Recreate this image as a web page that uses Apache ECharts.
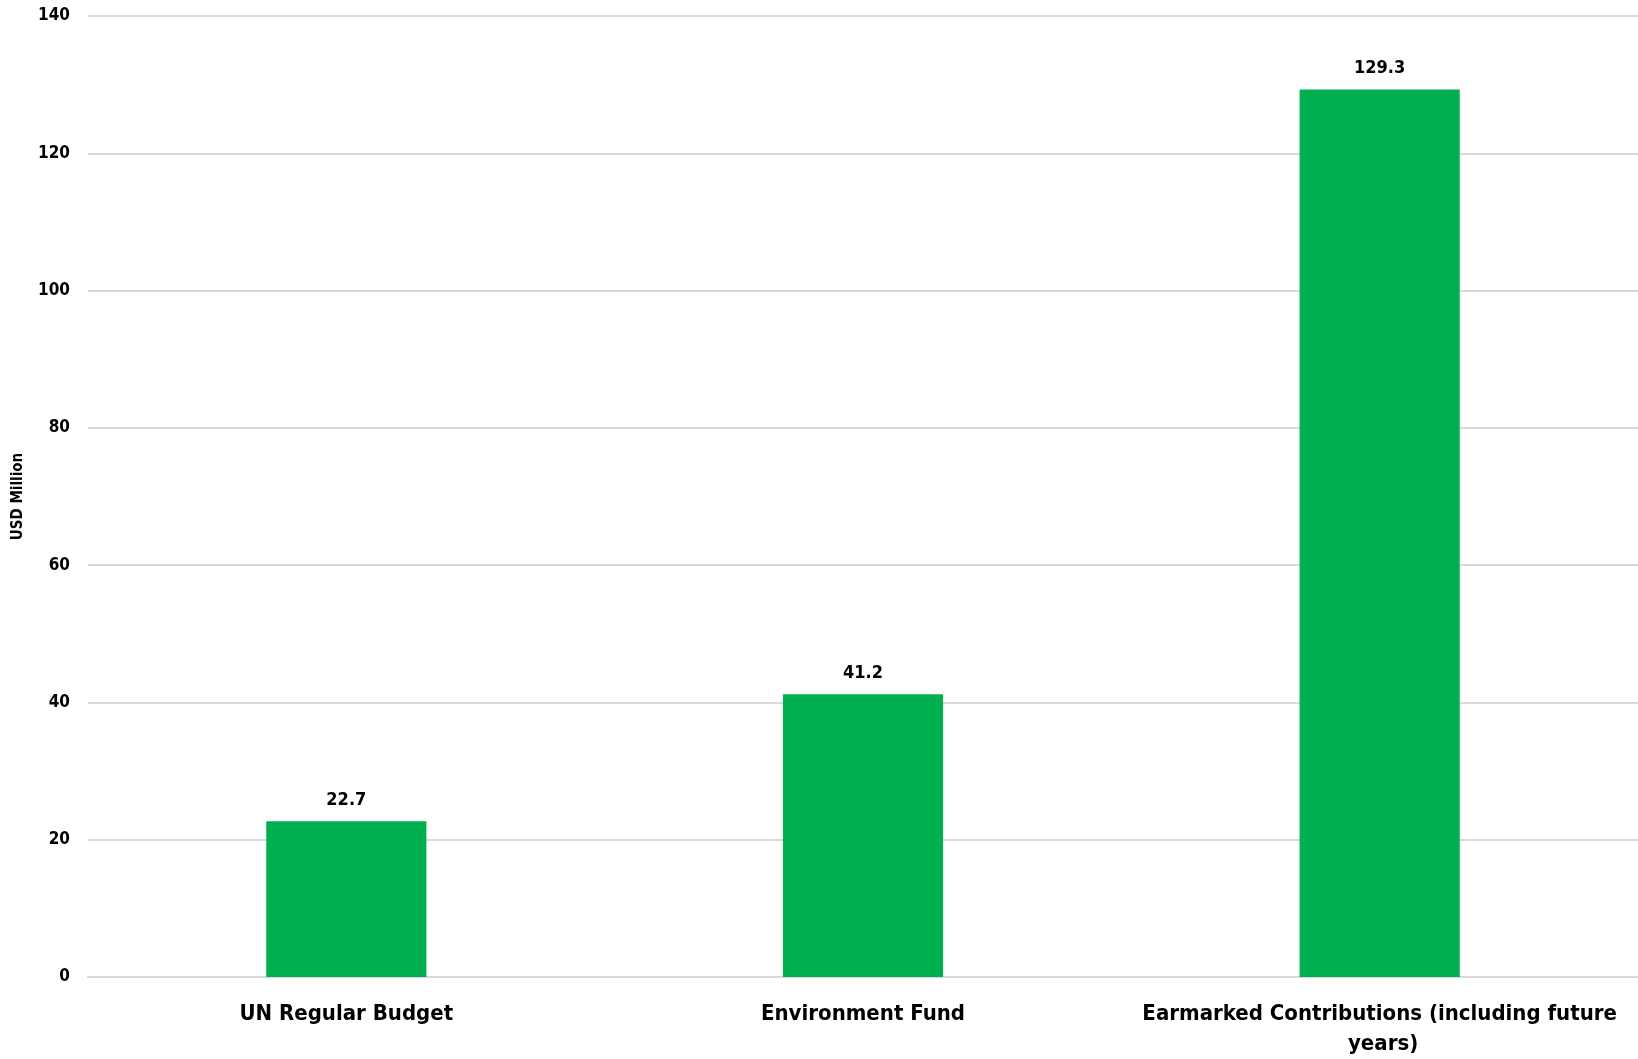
<!DOCTYPE html>
<html><head><meta charset="utf-8">
<script src="https://cdn.jsdelivr.net/npm/echarts@6/dist/echarts.min.js"></script>
<style>html,body{margin:0;padding:0;background:#fff}#c{width:1638px;height:1059px}</style>
</head><body><div id="c"></div>
<script>
const categories = ["UN Regular Budget", "Environment Fund", "Earmarked Contributions (including future years)"];
const values = [22.7, 41.2, 129.3];
const yAxisTitle = "USD Million";
const FONT = "'DejaVu Sans Condensed', 'Liberation Sans Narrow', sans-serif";
const chart = echarts.init(document.getElementById('c'));
chart.setOption({
  animation: false,
  grid: {left: 88, right: 0, top: 16, bottom: 80, containLabel: false},
  xAxis: {
    type: 'category', data: categories,
    axisLine: {show: true, lineStyle: {color: '#d9d9d9', width: 2}},
    axisTick: {show: false},
    axisLabel: {color: '#000', fontFamily: FONT, fontWeight: 'bold', fontSize: 22, lineHeight: 30, margin: 22, width: 480, overflow: 'break', interval: 0}
  },
  yAxis: {
    type: 'value', min: 0, max: 140, interval: 20,
    name: yAxisTitle, nameLocation: 'middle', nameGap: 62, nameRotate: 90,
    nameTextStyle: {color: '#000', fontFamily: FONT, fontWeight: 'bold', fontSize: 15},
    axisLine: {show: false}, axisTick: {show: false},
    axisLabel: {color: '#000', fontFamily: FONT, fontWeight: 'bold', fontSize: 17, margin: 18},
    splitLine: {lineStyle: {color: '#d9d9d9', width: 2}}
  },
  series: [{
    type: 'bar', data: values, barWidth: '31%',
    itemStyle: {color: '#00B050'},
    label: {show: true, position: 'top', distance: 12, color: '#000', fontFamily: FONT, fontWeight: 'bold', fontSize: 18}
  }]
});
</script></body></html>
